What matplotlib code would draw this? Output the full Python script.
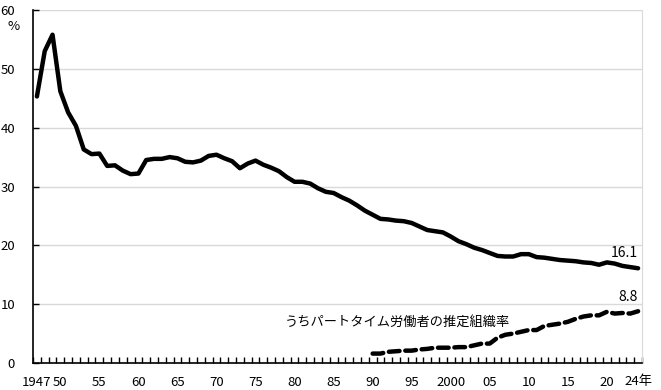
import matplotlib
matplotlib.use("Agg")
import matplotlib.pyplot as plt

plt.rcParams['font.family'] = ['Noto Sans CJK JP', 'DejaVu Sans']

years = list(range(1947, 2025))
total = [45.3, 53.0, 55.8, 46.2, 42.6, 40.3, 36.3, 35.5, 35.6, 33.5,
         33.6, 32.7, 32.1, 32.2, 34.5, 34.7, 34.7, 35.0, 34.8, 34.2,
         34.1, 34.4, 35.2, 35.4, 34.8, 34.3, 33.1, 33.9, 34.4, 33.7,
         33.2, 32.6, 31.6, 30.8, 30.8, 30.5, 29.7, 29.1, 28.9, 28.2,
         27.6, 26.8, 25.9, 25.2, 24.5, 24.4, 24.2, 24.1, 23.8, 23.2,
         22.6, 22.4, 22.2, 21.5, 20.7, 20.2, 19.6, 19.2, 18.7, 18.2,
         18.1, 18.1, 18.5, 18.5, 18.0, 17.9, 17.7, 17.5, 17.4, 17.3,
         17.1, 17.0, 16.7, 17.1, 16.9, 16.5, 16.3, 16.1]

pt_years = list(range(1990, 2025))
part_time = [1.6, 1.6, 1.9, 2.0, 2.1, 2.1, 2.3, 2.4, 2.6, 2.6,
             2.6, 2.7, 2.7, 3.0, 3.3, 3.3, 4.3, 4.8, 5.0, 5.3,
             5.6, 5.6, 6.3, 6.5, 6.7, 7.0, 7.5, 7.9, 8.1, 8.1,
             8.7, 8.4, 8.5, 8.4, 8.8]

tick_years = [1947, 1950, 1955, 1960, 1965, 1970, 1975, 1980, 1985, 1990,
              1995, 2000, 2005, 2010, 2015, 2020, 2024]
tick_labels = ['1947', '50', '55', '60', '65', '70', '75', '80', '85', '90',
               '95', '2000', '05', '10', '15', '20', '24年']

fig = plt.figure(figsize=(6.61, 3.90), dpi=100)
ax = fig.add_axes([33 / 661, 27 / 390, 609 / 661, 353 / 390])

ax.plot(years, total, color='black', lw=3.2, solid_joinstyle='round',
        solid_capstyle='round', zorder=3)
ax.plot(pt_years, part_time, color='black', lw=3.2, dashes=(2.4, 1.3),
        dash_capstyle='round', zorder=3)

ax.set_xlim(1946.5, 2024.5)
ax.set_ylim(0, 60)
ax.set_yticks(range(0, 61, 10))
ax.yaxis.grid(True, color='#d9d9d9', lw=1, zorder=1)

# year boundaries get the tick marks, labels sit on the year itself
ax.set_xticks([y + 0.5 for y in range(1946, 2025)])
ax.set_xticklabels([])
ax.set_xticks(tick_years, minor=True)
ax.set_xticklabels(tick_labels, minor=True)
ax.tick_params(axis='x', which='major', direction='in', length=4.5,
               width=1, color='black')
ax.tick_params(axis='x', which='minor', length=0, pad=9, labelsize=9.5)
ax.tick_params(axis='y', direction='in', length=4, width=1, labelsize=9.5,
               pad=13, color='black')

for side in ['left', 'bottom']:
    ax.spines[side].set_color('black')
    ax.spines[side].set_linewidth(1.2)
ax.spines['right'].set_color('#d9d9d9')
ax.spines['top'].set_visible(False)

fig.text(8 / 661, 1 - 27 / 390, '%', fontsize=9.5, va='center', ha='left')

ax.text(2024, total[-1] + 1.4, '16.1', fontsize=10, ha='right', va='bottom')
ax.text(2024, part_time[-1] + 1.3, '8.8', fontsize=10, ha='right',
        va='bottom')
ax.text(1978.8, 7.0, 'うちパートタイム労働者の推定組織率', fontsize=9.5,
        ha='left', va='center')

fig.savefig('out.png', dpi=100)
